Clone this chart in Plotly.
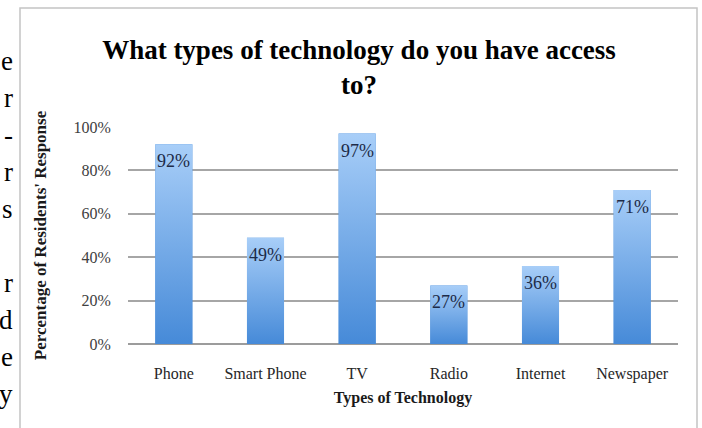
import plotly.graph_objects as go

# Survey results: share of residents with access to each technology
categories = ["Phone", "Smart Phone", "TV", "Radio", "Internet", "Newspaper"]
shares = [0.92, 0.49, 0.97, 0.27, 0.36, 0.71]
y_ticks = [0, 0.2, 0.4, 0.6, 0.8, 1.0]

# Right-hand ends of the surrounding page text, one entry per line
margin_letters = ["e", "r", "-", "r", "s", "", "r", "d", "e", "y"]

W, H = 702, 428
M_L, M_R, M_T, M_B = 128, 24, 127, 84
PW, PH = W - M_L - M_R, H - M_T - M_B

BAR_W = 0.404
LIGHT = "#a8cef8"
DARK = "#468ad8"
SERIF = "Liberation Serif, Times New Roman, serif"


def px_x(p):
    return (p - M_L) / PW


def px_y(p):
    return (H - M_B - p) / PH


fig = go.Figure()

# Bars (data marks); their bodies get a vertical gradient below
fig.add_trace(go.Bar(
    x=list(range(len(categories))), y=shares, width=BAR_W,
    marker=dict(color=DARK, line=dict(width=0)),
    showlegend=False,
    hovertemplate="%{customdata}: %{y:.0%}<extra></extra>",
    customdata=categories,
))

# Gradient fill laid over each bar body
for i, v in enumerate(shares):
    x0, x1 = i - BAR_W / 2, i + BAR_W / 2
    fig.add_trace(go.Scatter(
        x=[x0, x1, x1, x0, x0], y=[0, 0, v, v, 0],
        mode="lines", line=dict(width=0), fill="toself",
        fillgradient=dict(type="vertical",
                          colorscale=[[0, DARK], [1, LIGHT]]),
        hoverinfo="skip", showlegend=False,
    ))

# Value labels just inside the top of each bar
for i, v in enumerate(shares):
    fig.add_annotation(
        x=i, y=v, xref="x", yref="y", text=f"{round(v * 100)}%",
        yshift=-17, xanchor="center", yanchor="middle", showarrow=False,
        font=dict(family=SERIF, size=18, color="#1d2b48"),
    )

fig.update_layout(
    width=W, height=H,
    margin=dict(l=M_L, r=M_R, t=M_T, b=M_B, autoexpand=False),
    paper_bgcolor="white", plot_bgcolor="white",
    showlegend=False,
    title=dict(
        text="What types of technology do you have access<br>to?",
        font=dict(family=SERIF, size=27, color="black", weight="bold"),
        x=px_x(359), xref="paper", xanchor="center",
        y=1 - 58.5 / H, yref="container", yanchor="middle",
    ),
    xaxis=dict(
        range=[-0.5, len(categories) - 0.5],
        tickmode="array", tickvals=list(range(len(categories))),
        ticktext=categories,
        ticks="outside", ticklen=15, tickcolor="rgba(0,0,0,0)",
        tickfont=dict(family=SERIF, size=16, color="#262626"),
        showgrid=False, zeroline=False,
        showline=False,
        title=dict(text="<b>Types of Technology</b>", standoff=9,
                   font=dict(family=SERIF, size=16, color="#1a1a1a")),
        fixedrange=True,
    ),
    yaxis=dict(
        range=[0, 1.0],
        tickmode="array", tickvals=y_ticks, tickformat=".0%",
        ticks="outside", ticklen=13, tickcolor="rgba(0,0,0,0)",
        tickfont=dict(family=SERIF, size=16, color="#404040"),
        showgrid=True, gridcolor="#a6a6a6", gridwidth=1.5,
        zeroline=True, zerolinecolor="#9c9c9c", zerolinewidth=2,
        showline=False,
        title=dict(text="<b>Percentage of Residents' Response</b>",
                   standoff=22,
                   font=dict(family=SERIF, size=17, color="#1a1a1a")),
        fixedrange=True,
    ),
    bargap=0.6,
)

# Light frame around the chart area
fig.add_shape(type="rect", xref="paper", yref="paper",
              x0=px_x(20), x1=px_x(697), y0=px_y(440), y1=px_y(8),
              line=dict(color="#c4c4c4", width=1.5), fillcolor="rgba(0,0,0,0)",
              layer="below")

# Line endings of the page text to the left of the frame
for k, ch in enumerate(margin_letters):
    if not ch:
        continue
    fig.add_annotation(
        text=ch, xref="paper", yref="paper",
        x=px_x(15), y=px_y(61 + 37 * k),
        xanchor="right", yanchor="middle", showarrow=False,
        font=dict(family=SERIF, size=27, color="black"),
    )

fig.write_html("out.html")
